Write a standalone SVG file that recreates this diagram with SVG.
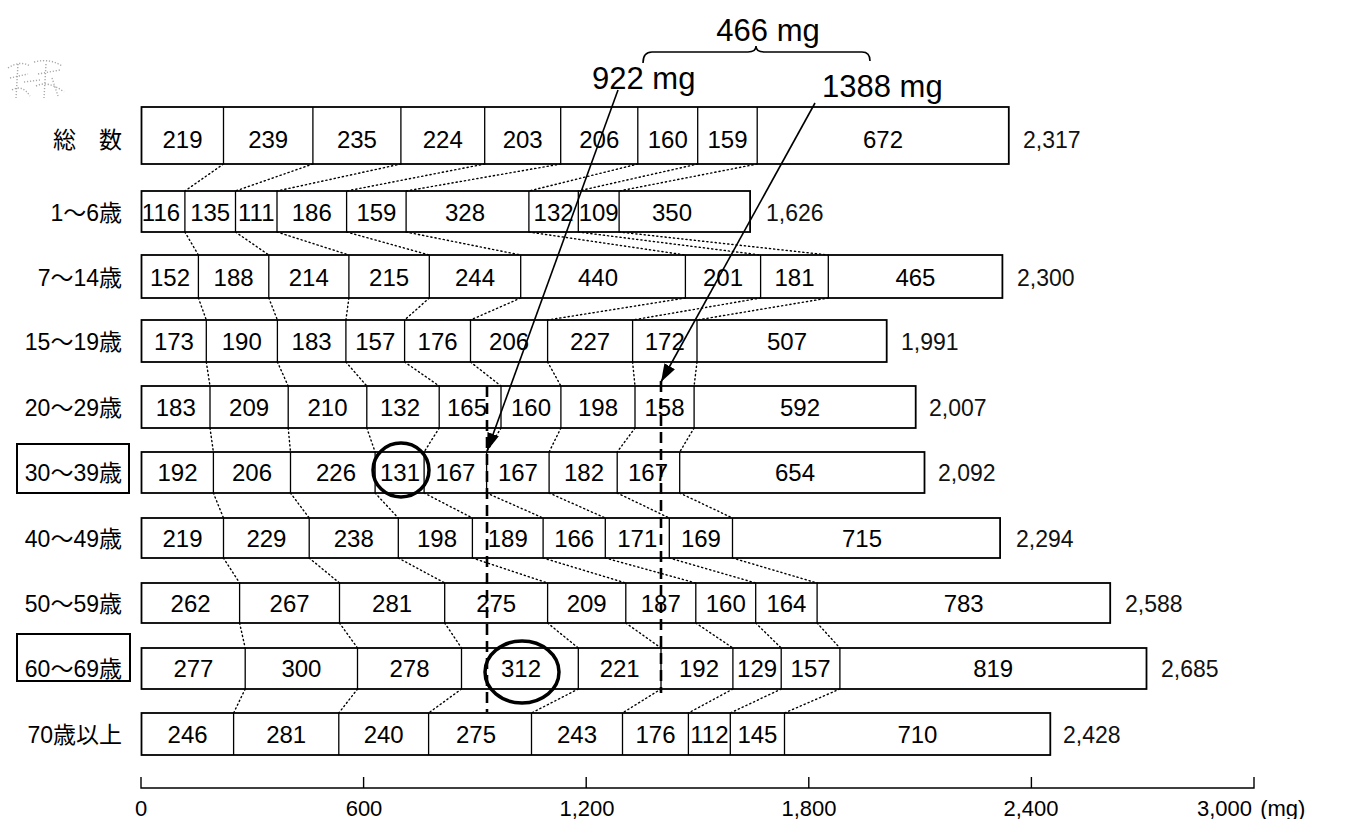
<svg xmlns="http://www.w3.org/2000/svg" width="1353" height="819" viewBox="0 0 1353 819">
<defs>
<style>
.box{fill:#fff;stroke:#000;stroke-width:1.8}
.dv{fill:none;stroke:#000;stroke-width:1.3}
.v{font-family:"Liberation Sans",Arial,sans-serif;font-size:24px;text-anchor:middle;fill:#000}
.lbl{font-family:"Liberation Sans","Noto Sans CJK JP",sans-serif;font-size:23px;text-anchor:end;fill:#000}
.tot{font-family:"Liberation Sans",Arial,sans-serif;font-size:23px;text-anchor:start;fill:#111}
.ax{font-family:"Liberation Sans",Arial,sans-serif;font-size:22px;text-anchor:middle;fill:#000}
.axs{font-family:"Liberation Sans",Arial,sans-serif;font-size:22px;text-anchor:start;fill:#000}
.big{font-family:"Liberation Sans",Arial,sans-serif;font-size:31px;fill:#000}
.dot{fill:none;stroke:#000;stroke-width:1.4;stroke-dasharray:1.2 3;stroke-linecap:round}
.dash{fill:none;stroke:#000;stroke-width:2.6;stroke-dasharray:11 6}
.arr{fill:none;stroke:#000;stroke-width:1.6}
.ring{fill:none;stroke:#000;stroke-width:3.5}
.lbox{fill:none;stroke:#000;stroke-width:2}
</style>
<marker id="ah2" viewBox="0 0 18 12" refX="18" refY="6" markerWidth="18" markerHeight="12" markerUnits="userSpaceOnUse" orient="auto">
<path d="M0,0 L18,6 L0,12 z" fill="#000"/>
</marker>
</defs>
<rect width="1353" height="819" fill="#fff"/>

<g id="smudge" fill="none" stroke="#a8a8a8" stroke-width="1.4" stroke-dasharray="1.2 1.8">
<path d="M8,68 Q20,60 30,66 M10,78 L28,74 M12,90 Q22,84 30,96 M34,62 Q50,58 62,66 M38,74 L60,70 M36,86 Q48,80 64,92 M18,64 L16,98 M46,64 L44,98 M24,82 L40,80 M52,78 L58,96"/>
</g>

<g id="top-labels">
<text class="big" x="768" y="41" text-anchor="middle">466 mg</text>
<path d="M643,63 Q643,52 652,52 L748,52 Q756,52 756,46 Q756,52 764,52 L862,52 Q870,52 870,61" fill="none" stroke="#000" stroke-width="1.6"/>
<text class="big" x="592" y="89">922 mg</text>
<text class="big" x="822" y="97">1388 mg</text>
</g>

<g id="row-total">
<text class="lbl" x="122" y="148">総　数</text>
<rect class="box" x="141.5" y="107" width="867.3" height="57"/>
<path class="dv" d="M223.5,107V164M312.9,107V164M400.9,107V164M484.7,107V164M560.7,107V164M637.8,107V164M697.7,107V164M757.2,107V164"/>
<text class="v" y="148"><tspan x="182.5">219</tspan><tspan x="268.2">239</tspan><tspan x="356.9">235</tspan><tspan x="442.8">224</tspan><tspan x="522.7">203</tspan><tspan x="599.3">206</tspan><tspan x="667.8">160</tspan><tspan x="727.5">159</tspan><tspan x="883">672</tspan></text>
<text class="tot" x="1023" y="148">2,317</text>
</g>

<g id="row-1-6">
<text class="lbl" x="122" y="221">1～6歳</text>
<rect class="box" x="141.5" y="191" width="608.6" height="41"/>
<path class="dv" d="M184.9,191V232M235.5,191V232M277,191V232M346.6,191V232M406.1,191V232M528.9,191V232M578.3,191V232M619.1,191V232"/>
<text class="v" y="221"><tspan x="161">116</tspan><tspan x="210.2">135</tspan><tspan x="256.3">111</tspan><tspan x="311.8">186</tspan><tspan x="376.4">159</tspan><tspan x="465">328</tspan><tspan x="553.6">132</tspan><tspan x="598.7">109</tspan><tspan x="672">350</tspan></text>
<text class="tot" x="766" y="221">1,626</text>
</g>

<g id="row-7-14">
<text class="lbl" x="122" y="286">7～14歳</text>
<rect class="box" x="141.5" y="255" width="860.9" height="43"/>
<path class="dv" d="M198.4,255V298M268.8,255V298M348.9,255V298M429.3,255V298M520.7,255V298M685.4,255V298M760.6,255V298M828.3,255V298"/>
<text class="v" y="286"><tspan x="170">152</tspan><tspan x="233.6">188</tspan><tspan x="308.8">214</tspan><tspan x="389.1">215</tspan><tspan x="475">244</tspan><tspan x="598">440</tspan><tspan x="723">201</tspan><tspan x="794.5">181</tspan><tspan x="915.4">465</tspan></text>
<text class="tot" x="1017" y="286">2,300</text>
</g>

<g id="row-15-19">
<text class="lbl" x="122" y="350">15～19歳</text>
<rect class="box" x="141.5" y="320" width="745.2" height="42"/>
<path class="dv" d="M206.3,320V362M277.4,320V362M345.9,320V362M404.6,320V362M470.5,320V362M547.6,320V362M632.6,320V362M697,320V362"/>
<text class="v" y="350"><tspan x="173.9">173</tspan><tspan x="241.8">190</tspan><tspan x="311.6">183</tspan><tspan x="375.3">157</tspan><tspan x="437.6">176</tspan><tspan x="509.1">206</tspan><tspan x="590.1">227</tspan><tspan x="664.8">172</tspan><tspan x="787">507</tspan></text>
<text class="tot" x="901" y="350">1,991</text>
</g>

<g id="row-20-29">
<text class="lbl" x="122" y="416">20～29歳</text>
<rect class="box" x="141.5" y="386" width="774.2" height="42"/>
<path class="dv" d="M210,386V428M288.2,386V428M366.8,386V428M439.2,386V428M501,386V428M560.9,386V428M635,386V428M694.1,386V428"/>
<text class="v" y="416"><tspan x="175.8">183</tspan><tspan x="249.1">209</tspan><tspan x="327.5">210</tspan><tspan x="400">132</tspan><tspan x="467">165</tspan><tspan x="531">160</tspan><tspan x="598">198</tspan><tspan x="664.5">158</tspan><tspan x="800">592</tspan></text>
<text class="tot" x="929" y="416">2,007</text>
</g>

<g id="row-30-39">
<rect class="lbox" x="17" y="444" width="112" height="49"/>
<text class="lbl" x="122" y="481">30～39歳</text>
<rect class="box" x="141.5" y="452" width="783" height="41"/>
<path class="dv" d="M213.4,452V493M290.5,452V493M375.1,452V493M424.1,452V493M486.6,452V493M549.1,452V493M617.2,452V493M679.7,452V493"/>
<text class="v" y="481"><tspan x="177.5">192</tspan><tspan x="252">206</tspan><tspan x="336">226</tspan><tspan x="400">131</tspan><tspan x="455.4">167</tspan><tspan x="517.9">167</tspan><tspan x="584">182</tspan><tspan x="648">167</tspan><tspan x="795">654</tspan></text>
<text class="tot" x="938" y="481">2,092</text>
</g>

<g id="row-40-49">
<text class="lbl" x="122" y="547">40～49歳</text>
<rect class="box" x="141.5" y="518" width="858.6" height="40"/>
<path class="dv" d="M223.5,518V558M309.2,518V558M398.3,518V558M472.4,518V558M543.1,518V558M605.3,518V558M669.3,518V558M732.5,518V558"/>
<text class="v" y="547"><tspan x="182.5">219</tspan><tspan x="266.4">229</tspan><tspan x="353.8">238</tspan><tspan x="437">198</tspan><tspan x="507.8">189</tspan><tspan x="574.2">166</tspan><tspan x="637.3">171</tspan><tspan x="700.9">169</tspan><tspan x="862">715</tspan></text>
<text class="tot" x="1016" y="547">2,294</text>
</g>

<g id="row-50-59">
<text class="lbl" x="122" y="612">50～59歳</text>
<rect class="box" x="141.5" y="583" width="968.7" height="40"/>
<path class="dv" d="M239.6,583V623M339.5,583V623M444.7,583V623M547.6,583V623M625.8,583V623M695.8,583V623M755.7,583V623M817.1,583V623"/>
<text class="v" y="612"><tspan x="190.6">262</tspan><tspan x="289.6">267</tspan><tspan x="392.1">281</tspan><tspan x="496.2">275</tspan><tspan x="586.7">209</tspan><tspan x="660.8">187</tspan><tspan x="725.8">160</tspan><tspan x="786.4">164</tspan><tspan x="963.7">783</tspan></text>
<text class="tot" x="1125" y="612">2,588</text>
</g>

<g id="row-60-69">
<rect class="lbox" x="17" y="634" width="113" height="47"/>
<text class="lbl" x="122" y="677">60～69歳</text>
<rect class="box" x="141.5" y="648" width="1005" height="41"/>
<path class="dv" d="M245.2,648V689M357.5,648V689M461.5,648V689M578.3,648V689M661,648V689M732.9,648V689M781.2,648V689M839.9,648V689"/>
<text class="v" y="677"><tspan x="193.4">277</tspan><tspan x="301.4">300</tspan><tspan x="409.5">278</tspan><tspan x="521">312</tspan><tspan x="619.7">221</tspan><tspan x="699">192</tspan><tspan x="757.1">129</tspan><tspan x="810.6">157</tspan><tspan x="993.2">819</tspan></text>
<text class="tot" x="1161" y="677">2,685</text>
</g>

<g id="row-70">
<text class="lbl" x="122" y="743">70歳以上</text>
<rect class="box" x="141.5" y="713" width="908.8" height="42"/>
<path class="dv" d="M233.6,713V755M338.8,713V755M428.6,713V755M531.5,713V755M622.5,713V755M688.4,713V755M730.3,713V755M784.5,713V755"/>
<text class="v" y="743"><tspan x="187.6">246</tspan><tspan x="286.2">281</tspan><tspan x="383.7">240</tspan><tspan x="476">275</tspan><tspan x="577">243</tspan><tspan x="655.5">176</tspan><tspan x="709.4">112</tspan><tspan x="757.4">145</tspan><tspan x="917.4">710</tspan></text>
<text class="tot" x="1063" y="743">2,428</text>
</g>

<g id="axis">
<path d="M141,777V788H1254V777M363.6,777V788M586.2,777V788M808.8,777V788M1031.4,777V788" fill="none" stroke="#000" stroke-width="1.4"/>
<text class="ax" y="816"><tspan x="141">0</tspan><tspan x="364">600</tspan><tspan x="587">1,200</tspan><tspan x="809">1,800</tspan><tspan x="1031">2,400</tspan></text>
<text class="axs" x="1197" y="816">3,000 <tspan dx="2">(mg)</tspan></text>
</g>

<g id="connectors">
<path class="dot" d="M223.5,164L184.9,191M312.9,164L235.5,191M400.9,164L277,191M484.7,164L346.6,191M560.7,164L406.1,191M637.8,164L528.9,191M697.7,164L578.3,191M757.2,164L619.1,191
M184.9,232L198.4,255M235.5,232L268.8,255M277,232L348.9,255M346.6,232L429.3,255M406.1,232L520.7,255M528.9,232L685.4,255M578.3,232L760.6,255M619.1,232L828.3,255
M198.4,298L206.3,320M268.8,298L277.4,320M348.9,298L345.9,320M429.3,298L404.6,320M520.7,298L470.5,320M685.4,298L547.6,320M760.6,298L632.6,320M828.3,298L697,320
M206.3,362L210,386M277.4,362L288.2,386M345.9,362L366.8,386M404.6,362L439.2,386M470.5,362L501,386M547.6,362L560.9,386M632.6,362L635,386M697,362L694.1,386
M210,428L213.4,452M288.2,428L290.5,452M366.8,428L375.1,452M439.2,428L424.1,452M501,428L486.6,452M560.9,428L549.1,452M635,428L617.2,452M694.1,428L679.7,452
M213.4,493L223.5,518M290.5,493L309.2,518M375.1,493L398.3,518M424.1,493L472.4,518M486.6,493L543.1,518M549.1,493L605.3,518M617.2,493L669.3,518M679.7,493L732.5,518
M223.5,558L239.6,583M309.2,558L339.5,583M398.3,558L444.7,583M472.4,558L547.6,583M543.1,558L625.8,583M605.3,558L695.8,583M669.3,558L755.7,583M732.5,558L817.1,583
M239.6,623L245.2,648M339.5,623L357.5,648M444.7,623L461.5,648M547.6,623L578.3,648M625.8,623L661,648M695.8,623L732.9,648M755.7,623L781.2,648M817.1,623L839.9,648
M245.2,689L233.6,713M357.5,689L338.8,713M461.5,689L428.6,713M578.3,689L531.5,713M661,689L622.5,713M732.9,689L688.4,713M781.2,689L730.3,713M839.9,689L784.5,713"/>
<path class="dash" d="M487,386V712"/>
<path class="dash" d="M661,381V693"/>
<path class="arr" d="M618,90L487,451" marker-end="url(#ah2)"/>
<path class="arr" d="M815,103L661,382" marker-end="url(#ah2)"/>
<ellipse class="ring" cx="401" cy="470" rx="28" ry="27"/>
<ellipse class="ring" cx="522" cy="672" rx="37" ry="31"/>
</g>
</svg>
